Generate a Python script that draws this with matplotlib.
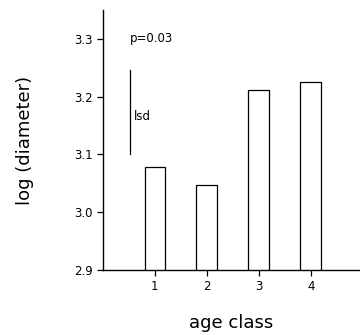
import matplotlib.pyplot as plt

# data
age_class = [1, 2, 3, 4]
log_diam = [3.078, 3.047, 3.212, 3.226]
tick_labels = ["1", "2", "3", "4"]
lsd_low, lsd_high = 3.10, 3.247

fig = plt.figure(figsize=(3.6, 3.35), dpi=100)
ax = fig.add_axes([0.286, 0.194, 0.714, 0.776])

ax.bar(age_class, log_diam, width=0.4, bottom=0, color="white",
       edgecolor="black", linewidth=0.9)

# lsd bar and annotations
ax.plot([0.52, 0.52], [lsd_low, lsd_high], color="black", linewidth=0.9)
ax.text(0.60, 3.165, "lsd", fontsize=8.5, va="center")
ax.text(0.52, 3.30, "p=0.03", fontsize=8.5, va="center")

ax.set_xlim(0, 4.95)
ax.set_ylim(2.9, 3.35)
ax.set_xticks(age_class)
ax.set_xticklabels(tick_labels)
ax.set_yticks([2.9, 3.0, 3.1, 3.2, 3.3])
ax.set_yticklabels(["2.9", "3.0", "3.1", "3.2", "3.3"])
ax.tick_params(direction="out", length=4, width=0.9, labelsize=8.5)
ax.spines["top"].set_visible(False)
ax.spines["right"].set_visible(False)
ax.spines["left"].set_linewidth(1.0)
ax.spines["bottom"].set_linewidth(1.0)

ax.set_xlabel("age class", fontsize=13, labelpad=15)
ax.set_ylabel("log (diameter)", fontsize=13, labelpad=29)

fig.savefig("out.png", dpi=100)
